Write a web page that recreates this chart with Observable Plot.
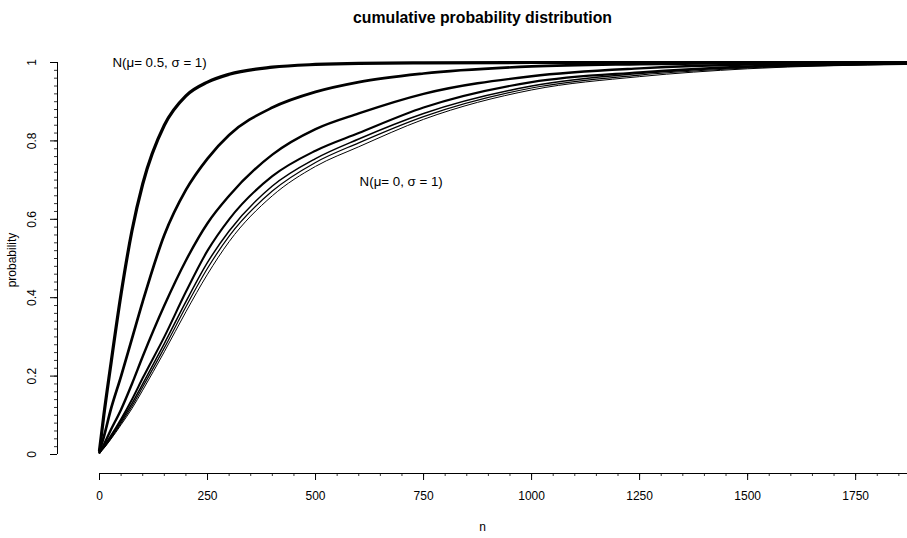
<!DOCTYPE html>
<html><head><meta charset="utf-8">
<script src="https://cdn.jsdelivr.net/npm/d3@7"></script>
<script src="https://cdn.jsdelivr.net/npm/@observablehq/plot@0.6"></script>
<style>
body{margin:0;background:#fff}
svg{font-family:"Liberation Sans",Arial,sans-serif}
</style>
</head><body><div id="chart"></div>
<script>
// ---- data ----
const nGrid = [0, 10, 25, 50, 75, 100, 150, 200, 250, 300, 400, 500, 600, 750, 1000, 1250, 1500, 1870];
const mu050 = [0.01, 0.10, 0.22, 0.41, 0.57, 0.69, 0.84, 0.915, 0.95, 0.97, 0.988, 0.995, 0.998, 0.999, 1, 1, 1, 1];
const mu040 = [0.01, 0.045, 0.11, 0.20, 0.295, 0.39, 0.56, 0.675, 0.755, 0.815, 0.885, 0.925, 0.95, 0.972, 0.99, 0.996, 0.999, 1];
const mu030 = [0.005, 0.025, 0.06, 0.115, 0.18, 0.25, 0.38, 0.495, 0.59, 0.66, 0.765, 0.83, 0.87, 0.92, 0.965, 0.985, 0.995, 0.999];
const mu020 = [0.005, 0.02, 0.045, 0.09, 0.14, 0.195, 0.30, 0.415, 0.52, 0.60, 0.71, 0.775, 0.82, 0.885, 0.95, 0.975, 0.99, 0.998];
const mu010 = [0.005, 0.018, 0.042, 0.085, 0.13, 0.18, 0.283, 0.39, 0.49, 0.57, 0.685, 0.755, 0.805, 0.87, 0.94, 0.972, 0.988, 0.997];
const mu005 = [0.005, 0.017, 0.039, 0.08, 0.123, 0.172, 0.272, 0.377, 0.475, 0.557, 0.672, 0.745, 0.795, 0.862, 0.935, 0.968, 0.986, 0.996];
const mu000 = [0.005, 0.016, 0.037, 0.076, 0.117, 0.164, 0.262, 0.364, 0.46, 0.543, 0.66, 0.735, 0.785, 0.855, 0.93, 0.964, 0.984, 0.995];
const seriesNames = ["mu0.5", "mu0.4", "mu0.3", "mu0.2", "mu0.1", "mu0.05", "mu0"];
const xTicks = [0, 250, 500, 750, 1000, 1250, 1500, 1750];
const yTicks = [0, 0.2, 0.4, 0.6, 0.8, 1];
const yTickLabels = ["0", "0.2", "0.4", "0.6", "0.8", "1"];
const annotations = [
  {n: 30, p: 1.0, label: "N(\u03bc= 0.5, \u03c3 = 1)"},
  {n: 602, p: 0.696, label: "N(\u03bc= 0, \u03c3 = 1)"}
];
const titleText = "cumulative probability distribution";
const xLabel = "n";
const yLabel = "probability";

// ---- build & draw ----
const seriesValues = [mu050, mu040, mu030, mu020, mu010, mu005, mu000];
const widths = [3.2, 2.7, 2.4, 2.1, 1.5, 1.2, 1.0];
const rowsFor = (vals, name) => nGrid.map((n, j) => ({series: name, n, p: vals[j]}));
const xMinor = d3.range(0, 1871, 50);
const yMinor = d3.range(0, 51).map(i => i / 50);

const lineMarks = seriesValues.map((vals, i) =>
  Plot.line(rowsFor(vals, seriesNames[i]), {x: "n", y: "p", stroke: "#000", strokeWidth: widths[i], curve: "monotone-x"})
);

const chart = Plot.plot({
  width: 907, height: 538,
  marginLeft: 57, marginRight: 0, marginTop: 46, marginBottom: 65,
  x: {domain: [0, 1870], insetLeft: 42},
  y: {domain: [0, 1], insetTop: 16, insetBottom: 19},
  style: {fontFamily: "'Liberation Sans', Arial, sans-serif", fontSize: "12px", color: "#000", background: "#fff"},
  marks: [
    Plot.ruleX([0], {y1: 0, y2: 1, dx: -42, stroke: "#000"}),
    Plot.ruleY([0], {x1: 0, x2: 1870, dy: 19, stroke: "#000"}),
    Plot.axisY({ticks: yMinor, tickSize: 3, tickFormat: () => "", label: null, strokeWidth: 0.8}),
    Plot.axisY({ticks: yTicks, tickSize: 7, tickFormat: () => "", label: null}),
    Plot.text(yTicks, {x: 0, y: d => d, dx: -67, rotate: -90, text: (d, i) => yTickLabels[i], fontSize: 12}),
    Plot.axisX({ticks: xMinor, tickSize: 3, tickFormat: () => "", label: null, strokeWidth: 0.8}),
    Plot.axisX({ticks: xTicks, tickSize: 7, tickPadding: 11, tickFormat: d => String(d), label: null, fontSize: 12}),
    ...lineMarks,
    Plot.text(annotations, {x: "n", y: "p", text: "label", textAnchor: "start", fontSize: 13.3}),
    Plot.text([titleText], {frameAnchor: "top", dy: -29, lineAnchor: "middle", textAnchor: "middle", fontWeight: "bold", fontSize: 15.8}),
    Plot.text([xLabel], {frameAnchor: "bottom", dy: 54, lineAnchor: "middle", textAnchor: "middle", fontSize: 12}),
    Plot.text([yLabel], {frameAnchor: "left", dx: -45, rotate: -90, textAnchor: "middle", lineAnchor: "middle", fontSize: 12})
  ]
});
document.getElementById("chart").appendChild(chart);
</script>
</body></html>
